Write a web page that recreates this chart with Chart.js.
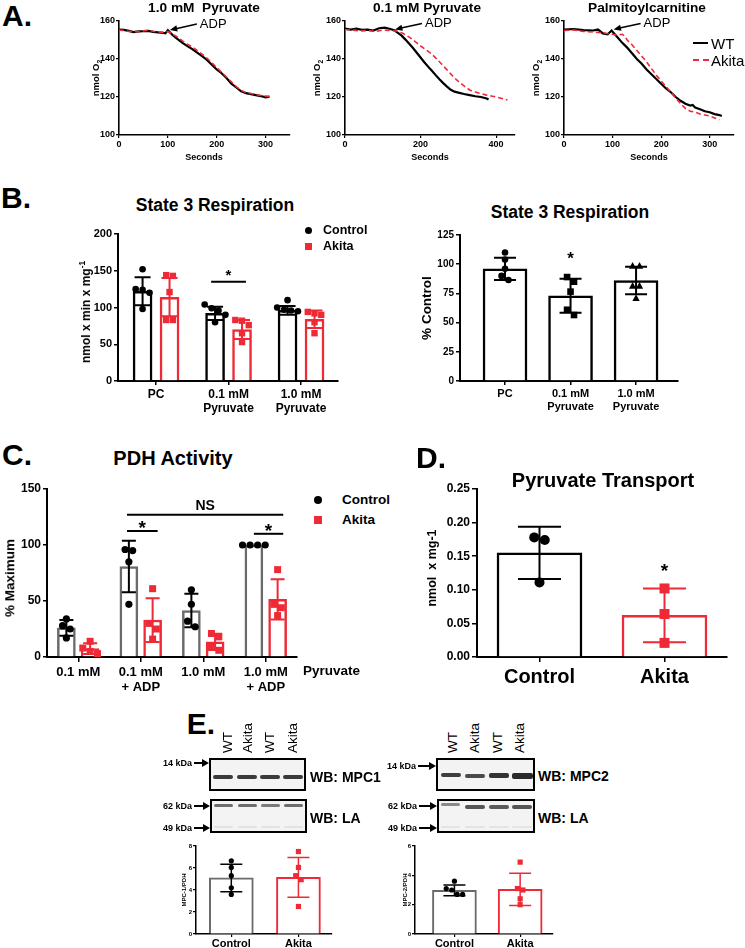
<!DOCTYPE html>
<html><head><meta charset="utf-8">
<script src="https://cdn.jsdelivr.net/npm/chart.js@4.4.1/dist/chart.umd.min.js"></script>
<style>
body{margin:0;width:745px;height:948px;background:#fff;position:relative;overflow:hidden;font-family:"Liberation Sans",Arial,Helvetica,sans-serif;font-weight:bold;color:#000}
canvas{position:absolute}
.t{position:absolute;white-space:nowrap;line-height:1}
.c{transform:translate(-50%,-50%)}
.l{transform:translate(0,-50%)}
.r{transform:translate(-100%,-50%)}
.rot{transform:translate(-50%,-50%) rotate(-90deg)}
.n{font-weight:normal}
.box{position:absolute;border:2px solid #000;background:#f3f3f3;box-sizing:border-box;overflow:hidden}
.band{position:absolute;border-radius:2px;filter:blur(0.7px)}
</style></head><body>
<script>
// ================= DATA =================
// Panel A — O2 traces (seconds / nmol O2)
const a1WtT  = [0,10,20,30,40,50,60,70,80,90,95,100,110,120,130,140,150,160,170,180,190,200,210,220,230,240,250,260,270,280,290,300,308];
const a1WtO2 = [155.5,155.3,154.8,154.2,154.5,154.6,154.8,154.3,154.0,153.8,153.5,155.2,152.5,150.5,148.5,146.8,145.2,143.3,141.5,139.5,137,134.5,132.5,130,127,125,123,122,121.5,121,120.5,119.8,120.2];
const a1AkT  = [0,10,20,30,40,50,60,70,80,90,95,100,110,120,130,140,150,160,170,180,190,200,210,220,230,240,250,260,270,280,290,300,308];
const a1AkO2 = [155.2,155.0,154.5,154.6,154.3,154.8,155.2,154.6,154.2,154.0,154.3,154.5,153.0,151.5,149.5,147.8,146.3,144.5,142.5,140.5,138,135.5,133,130.5,128,125.5,123.5,122.3,121.8,121.3,120.8,120.5,120.3];

const a2WtT  = [0,15,30,45,60,75,90,105,120,132,140,150,160,170,180,190,200,210,220,230,240,250,260,270,280,290,300,315,330,345,360,375,380];
const a2WtO2 = [156,155.5,156,155.3,155.5,155,156.2,156.5,155.8,155,153.8,152.3,150.2,148,145.8,143.3,140.8,138.3,136,133.8,131.5,129.3,127.3,125.5,123.8,122.8,122.3,121.6,121,120.4,120,119.2,118.7];
const a2AkT  = [0,20,40,60,80,100,120,140,154,170,185,199,215,230,243,255,270,287,300,315,331,345,360,375,390,405,420,430];
const a2AkO2 = [155.5,155.2,154.8,155,154.5,155.2,155,154.6,153.4,151.5,149.3,147,144.8,142.5,140,137.5,134.3,130.6,128.2,125.8,123.6,122.6,121.8,121,120.4,119.8,119,118.4];

const a3WtT  = [0,20,40,60,70,80,90,98,110,120,130,140,150,160,170,180,190,200,210,220,230,240,250,260,265,270,280,290,300,310,320,325];
const a3WtO2 = [155.5,155.8,155.2,155,155.5,153.5,153,155,151.5,148.5,146,143,140,137.5,134.5,132,129.5,127,124.5,122.5,120,118,116.5,115.5,115.8,114.5,113.5,112.5,112,111,110.5,110];
const a3AkT  = [0,20,40,60,80,100,110,120,125,130,140,150,160,170,180,190,200,210,220,230,240,250,260,270,280,290,300,310,320];
const a3AkO2 = [155,155.3,154.5,154.2,153.8,153,152.5,153,152,150,147.5,144.5,141.5,138.5,135,131.5,128.5,125.5,122.5,119.5,116.5,114,112.5,112,111,110.5,110,109,108];

const aYTicks = [100,120,140,160];
const a1XTicks = [0,100,200,300];
const a2XTicks = [0,200,400];
const a3XTicks = [0,100,200,300];
const adpTimes = [100, 127, 98];
const adpLevel = [155, 155.3, 155.3];

// Panel B (left) — State 3 respiration, nmol x min x mg-1
const bCats = ['PC', ['0.1 mM','Pyruvate'], ['1.0 mM','Pyruvate']];
const bCtrlMean = [122, 92, 96];
const bCtrlSD   = [19, 9, 6];
const bCtrlPts  = [[152,125,124,120,98],[104,99,96,90,80],[110,100,97,96,95]];
const bAkMean   = [114, 70, 84];
const bAkSD     = [26, 13, 12];
const bAkPts    = [[144,143,121,83,83],[83,82,76,65,53],[94,92,90,80,65]];
const bYTicks   = [0,50,100,150,200];
const bSig      = [{cat: 2, y: 135, text: '*'}];

// Panel B (right) — % Control
const bpMean = [96, 73, 86];
const bpSD   = [9.5, 14.6, 11.8];
const bpPts  = [[110,104,96,90,86.5],[89,85,76.5,61,56.5],[98.4,98.4,81.3,81.3,70.8]];
const bpYTicks = [0,25,50,75,100,125];
const bpStar = [{cat: 2, y: 108}];

// Panel C — PDH activity (% maximum)
const cCats = ['0.1 mM', ['0.1 mM','+ ADP'], '1.0 mM', ['1.0 mM','+ ADP']];
const cCtrlMean = [26, 80.75, 41.5, 100];
const cCtrlSD   = [7, 23, 15, 0];
const cCtrlPts  = [[34,28,25,17],[96,95,85,47],[60,47,32,27],[100,100,100,100]];
const cAkMean   = [7.5, 33, 13.5, 51.5];
const cAkSD     = [4.8, 19.5, 7.3, 18];
const cAkPts    = [[14,8,5,3],[61,30,25,16],[21,18,9,6],[78,47,44,37]];
const cYTicks   = [0,50,100,150];

// Panel D — pyruvate transport (nmol x mg-1)
const dCats = ['Control','Akita'];
const dMean = [0.155, 0.062];
const dSD   = [0.039, 0.040];
const dPts  = [[0.178,0.174,0.111],[0.102,0.064,0.021]];
const dYTicks = [0,0.05,0.10,0.15,0.20,0.25];
const dStar = 0.134;

// Panel E — densitometry
const eCats = ['Control','Akita'];
const e1Mean = [5.1, 5.15];
const e1SD   = [1.25, 1.8];
const e1Pts  = [[6.65,6.05,5.3,4.2,3.6],[7.5,6.05,5.3,4.94,2.5]];
const e1YTicks = [0,2,4,6,8];
const e2Mean = [2.97, 3.05];
const e2SD   = [0.37, 1.1];
const e2Pts  = [[3.6,3.1,3.0,2.7,2.7],[4.9,3.1,3.0,2.4,2.0]];
const e2YTicks = [0,2,4,6];

// ================= STYLE / HELPERS =================
const RED = '#ee2a36', GRAY = '#6a6a6a';
Chart.defaults.font.family = '"Liberation Sans", Arial, Helvetica, sans-serif';
Chart.defaults.font.weight = 'bold';
Chart.defaults.color = '#000';
Chart.defaults.animation = false;
Chart.defaults.plugins.legend.display = false;
Chart.defaults.plugins.tooltip.enabled = false;

function txt(html, x, y, size, cls, extra) {
  const d = document.createElement('div');
  d.className = 't ' + (cls || 'c');
  d.style.left = x + 'px'; d.style.top = y + 'px'; d.style.fontSize = size + 'px';
  if (extra) Object.assign(d.style, extra);
  d.innerHTML = html; document.body.appendChild(d); return d;
}
function place(l, t, r, b, yW, xH, padT, padR) {
  const c = document.createElement('canvas');
  const W = (r - l) + yW + padR, H = (b - t) + padT + xH;
  c.width = W; c.height = H;
  c.style.left = (l - yW) + 'px'; c.style.top = (t - padT) + 'px';
  c.style.width = W + 'px'; c.style.height = H + 'px';
  document.body.appendChild(c);
  return { c, padT, padR };
}
function axis(o) {
  return {
    type: 'linear', min: o.min, max: o.max, offset: false,
    afterBuildTicks: s => { s.ticks = o.ticks.map(v => ({ value: v })); },
    afterFit: s => { if (o.w != null) s.width = o.w; if (o.h != null) s.height = o.h; },
    ticks: { font: { size: o.fs, lineHeight: 1.15 }, padding: o.pad ?? 2, autoSkip: false, maxRotation: 0, minRotation: 0, callback: o.cb || (v => v) },
    grid: { display: true, drawOnChartArea: false, drawTicks: true, tickLength: o.tl ?? 4, color: '#000', lineWidth: o.lw ?? 1.5, offset: false },
    border: { display: true, color: '#000', width: o.bw ?? 2 }
  };
}
function shape(ctx, kind, x, y, r, color) {
  ctx.fillStyle = color; ctx.beginPath();
  if (kind === 'circle') ctx.arc(x, y, r, 0, Math.PI * 2);
  else if (kind === 'square') ctx.rect(x - r, y - r, 2 * r, 2 * r);
  else { ctx.moveTo(x, y - r * 1.2); ctx.lineTo(x + r * 1.1, y + r * 0.8); ctx.lineTo(x - r * 1.1, y + r * 0.8); ctx.closePath(); }
  ctx.fill();
}
// column-scatter: points closer than ~one diameter are spread symmetrically sideways
function spreadX(ys, r) {
  const idx = ys.map((y, i) => i).sort((a, b) => ys[a] - ys[b]);
  const off = new Array(ys.length).fill(0);
  let start = 0;
  for (let k = 1; k <= idx.length; k++) {
    if (k === idx.length || ys[idx[k]] - ys[idx[k - 1]] > r * 1.8) {
      const n = k - start;
      for (let j = 0; j < n; j++) off[idx[start + j]] = (j - (n - 1) / 2) * r * 2.1;
      start = k;
    }
  }
  return off;
}
// draws error bars + individual points on each bar, sig lines and stars, all through the chart scales
function decor(cfg) {
  return {
    id: 'decor',
    afterDatasetsDraw(chart) {
      const ctx = chart.ctx, ys = chart.scales.y, xs = chart.scales.x;
      ctx.save();
      (cfg.series || []).forEach((s, di) => {
        const meta = chart.getDatasetMeta(di);
        meta.data.forEach((bar, i) => {
          const m = s.means[i], sd = s.sds[i];
          const pys = s.pts[i].map(v => ys.getPixelForValue(v));
          const off = spreadX(pys, s.r);
          pys.forEach((py, j) => shape(ctx, typeof s.shape === 'function' ? s.shape(i) : s.shape, bar.x + off[j], py, s.r, s.ptColor));
          if (sd > 0) {
            const yt = ys.getPixelForValue(m + sd), yb = ys.getPixelForValue(m - sd);
            ctx.strokeStyle = s.ebColor; ctx.lineWidth = s.ebW;
            ctx.beginPath();
            ctx.moveTo(bar.x, yt); ctx.lineTo(bar.x, yb);
            ctx.moveTo(bar.x - s.cap / 2, yt); ctx.lineTo(bar.x + s.cap / 2, yt);
            ctx.moveTo(bar.x - s.cap / 2, yb); ctx.lineTo(bar.x + s.cap / 2, yb);
            ctx.stroke();
          }
        });
      });
      (cfg.lines || []).forEach(L => {
        const y = ys.getPixelForValue(L.y);
        ctx.strokeStyle = '#000'; ctx.lineWidth = 2;
        ctx.beginPath(); ctx.moveTo(xs.getPixelForValue(L.x1), y); ctx.lineTo(xs.getPixelForValue(L.x2), y); ctx.stroke();
        if (L.text) {
          ctx.fillStyle = '#000'; ctx.textAlign = 'center'; ctx.textBaseline = 'alphabetic';
          ctx.font = 'bold ' + L.fs + 'px "Liberation Sans", Arial';
          ctx.fillText(L.text, xs.getPixelForValue((L.x1 + L.x2) / 2), y - L.gap);
        }
      });
      (cfg.stars || []).forEach(S => {
        ctx.fillStyle = '#000'; ctx.textAlign = 'center'; ctx.textBaseline = 'alphabetic';
        ctx.font = 'bold ' + S.fs + 'px "Liberation Sans", Arial';
        ctx.fillText('*', xs.getPixelForValue(S.x), ys.getPixelForValue(S.y) + S.fs * 0.55);
      });
      ctx.restore();
    }
  };
}
function barDs(means, off, color, thick, bw) {
  return { data: means.map((m, i) => ({ x: i + 1 + off, y: m })), backgroundColor: '#fff', borderColor: color,
           borderWidth: bw, barThickness: thick, grouped: false, borderSkipped: 'bottom' };
}
function oneBar(pos, mean, color, thick, bw) {
  return { data: [{ x: pos, y: mean }], backgroundColor: '#fff', borderColor: color,
           borderWidth: bw, barThickness: thick, grouped: false, borderSkipped: 'bottom' };
}
function barChart(p, o) {
  return new Chart(p.c, {
    type: 'bar',
    data: { datasets: o.datasets },
    options: {
      responsive: false, maintainAspectRatio: false, devicePixelRatio: 1,
      layout: { padding: { top: p.padT, right: p.padR, left: 0, bottom: 0 } },
      scales: { x: o.x, y: o.y }
    },
    plugins: [decor(o.decor)]
  });
}

// ---------- Panel A: line charts ----------
function adpPlugin(t, v) {
  return {
    id: 'adp',
    afterDatasetsDraw(chart) {
      const ctx = chart.ctx, px = chart.scales.x.getPixelForValue(t), py = chart.scales.y.getPixelForValue(v);
      const sx = px + 29, sy = py - 6.5, ex = px + 2, ey = py - 0.5;
      ctx.save(); ctx.strokeStyle = '#000'; ctx.fillStyle = '#000'; ctx.lineWidth = 1.5;
      ctx.beginPath(); ctx.moveTo(sx, sy); ctx.lineTo(ex + 5, ey - 1.1); ctx.stroke();
      const ang = Math.atan2(ey - sy, ex - sx);
      ctx.beginPath(); ctx.moveTo(ex, ey);
      ctx.lineTo(ex - 8 * Math.cos(ang - 0.4), ey - 8 * Math.sin(ang - 0.4));
      ctx.lineTo(ex - 8 * Math.cos(ang + 0.4), ey - 8 * Math.sin(ang + 0.4));
      ctx.closePath(); ctx.fill();
      ctx.font = '13px "Liberation Sans", Arial'; ctx.textBaseline = 'middle'; ctx.textAlign = 'left';
      ctx.fillText('ADP', px + 32, py - 6.5);
      ctx.restore();
    }
  };
}
function lineChart(p, o) {
  const pts = (T, V) => T.map((t, i) => ({ x: t, y: V[i] }));
  return new Chart(p.c, {
    type: 'line',
    data: { datasets: [
      { data: pts(o.akT, o.akV), borderColor: RED, borderWidth: 1.6, borderDash: [5, 3], pointRadius: 0, tension: 0, fill: false },
      { data: pts(o.wtT, o.wtV), borderColor: '#000', borderWidth: 2.2, pointRadius: 0, tension: 0, fill: false }
    ] },
    options: {
      responsive: false, maintainAspectRatio: false, devicePixelRatio: 1,
      layout: { padding: { top: p.padT, right: p.padR, left: 0, bottom: 0 } },
      scales: {
        x: axis({ min: 0, max: o.xmax, ticks: o.xticks, fs: 9, h: 18, tl: 3, lw: 1.2, bw: 1.6, pad: 1 }),
        y: axis({ min: 100, max: 160, ticks: aYTicks, fs: 9, w: 26, tl: 3, lw: 1.2, bw: 1.6, pad: 1 })
      }
    },
    plugins: [adpPlugin(o.adpT, o.adpV)]
  });
}
lineChart(place(119, 21, 290, 135, 26, 18, 8, 8), { wtT: a1WtT, wtV: a1WtO2, akT: a1AkT, akV: a1AkO2, xmax: 350, xticks: a1XTicks, adpT: adpTimes[0], adpV: adpLevel[0] });
lineChart(place(345, 21, 515, 135, 26, 18, 8, 8), { wtT: a2WtT, wtV: a2WtO2, akT: a2AkT, akV: a2AkO2, xmax: 450, xticks: a2XTicks, adpT: adpTimes[1], adpV: adpLevel[1] });
lineChart(place(564, 21, 734, 135, 26, 18, 8, 8), { wtT: a3WtT, wtV: a3WtO2, akT: a3AkT, akV: a3AkO2, xmax: 350, xticks: a3XTicks, adpT: adpTimes[2], adpV: adpLevel[2] });

// ---------- Panel B left ----------
const bOff = 0.186;
barChart(place(118, 234, 338, 381, 40, 34, 10, 12), {
  datasets: [barDs(bCtrlMean, -bOff, '#000', 19, 2.5), barDs(bAkMean, bOff, RED, 19, 2.5)],
  x: axis({ min: 0.475, max: 3.51, ticks: [1, 2, 3], fs: 12, h: 34, tl: 4, pad: 3, cb: v => bCats[v - 1] }),
  y: axis({ min: 0, max: 200, ticks: bYTicks, fs: 11, w: 40, tl: 4, pad: 2 }),
  decor: {
    series: [
      { means: bCtrlMean, sds: bCtrlSD, pts: bCtrlPts, shape: 'circle', r: 3.3, ptColor: '#000', ebColor: '#000', ebW: 2, cap: 16 },
      { means: bAkMean, sds: bAkSD, pts: bAkPts, shape: 'square', r: 3.2, ptColor: RED, ebColor: RED, ebW: 2, cap: 16 }
    ],
    lines: bSig.map(s => ({ x1: s.cat - 0.24, x2: s.cat + 0.24, y: s.y, text: s.text, fs: 15, gap: 2 }))
  }
});

// ---------- Panel B right ----------
const bpShapes = ['circle', 'square', 'triangle'];
barChart(place(460, 235, 678, 381, 40, 34, 10, 20), {
  datasets: [barDs(bpMean, 0, '#000', 44, 2.5)],
  x: axis({ min: 0.313, max: 3.64, ticks: [1, 2, 3], fs: 11, h: 34, tl: 4, pad: 3, cb: v => bCats[v - 1] }),
  y: axis({ min: 0, max: 125, ticks: bpYTicks, fs: 10, w: 40, tl: 4, pad: 2 }),
  decor: {
    series: [{ means: bpMean, sds: bpSD, pts: bpPts, shape: i => bpShapes[i], r: 3.3, ptColor: '#000', ebColor: '#000', ebW: 2, cap: 22 }],
    stars: bpStar.map(s => ({ x: s.cat, y: s.y, fs: 17 }))
  }
});

// ---------- Panel C ----------
const cOff = 0.19;
barChart(place(47, 489, 297, 657, 40, 36, 10, 12), {
  datasets: [barDs(cCtrlMean, -cOff, GRAY, 18, 2.5), barDs(cAkMean, cOff, RED, 18, 2.5)],
  x: axis({ min: 0.5, max: 4.5, ticks: [1, 2, 3, 4], fs: 13, h: 36, tl: 5, pad: 3, cb: v => cCats[v - 1] }),
  y: axis({ min: 0, max: 150, ticks: cYTicks, fs: 12, w: 40, tl: 4, pad: 2 }),
  decor: {
    series: [
      { means: cCtrlMean, sds: cCtrlSD, pts: cCtrlPts, shape: 'circle', r: 3.6, ptColor: '#000', ebColor: '#000', ebW: 2, cap: 14 },
      { means: cAkMean, sds: cAkSD, pts: cAkPts, shape: 'square', r: 3.5, ptColor: RED, ebColor: RED, ebW: 2, cap: 14 }
    ],
    lines: [
      { x1: 2 - 0.22, x2: 4 + 0.28, y: 127, text: 'NS', fs: 14, gap: 5 },
      { x1: 2 - 0.22, x2: 2 + 0.27, y: 112.5, text: '*', fs: 19, gap: -3 },
      { x1: 4 - 0.19, x2: 4 + 0.28, y: 110, text: '*', fs: 19, gap: -3 }
    ]
  }
});

// ---------- Panel D ----------
barChart(place(477, 489, 727, 657, 50, 40, 10, 12), {
  datasets: [oneBar(1, dMean[0], '#000', 85, 2.5), oneBar(2, dMean[1], RED, 85, 2.5)],
  x: axis({ min: 0.5, max: 2.5, ticks: [1, 2], fs: 20, h: 40, tl: 5, pad: 4, cb: v => dCats[v - 1] }),
  y: axis({ min: 0, max: 0.25, ticks: dYTicks, fs: 12, w: 50, tl: 5, pad: 2, cb: v => v.toFixed(2) }),
  decor: {
    series: [
      { means: [dMean[0]], sds: [dSD[0]], pts: [dPts[0]], shape: 'circle', r: 5, ptColor: '#000', ebColor: '#000', ebW: 2, cap: 43 },
      { means: [dMean[1]], sds: [dSD[1]], pts: [dPts[1]], shape: 'square', r: 5, ptColor: RED, ebColor: RED, ebW: 2, cap: 43 }
    ],
    stars: [{ x: 2, y: dStar, fs: 19 }]
  }
});

// ---------- Panel E small charts ----------
function eChart(l, r, xmin, yt, mean, sd, pts) {
  return barChart(place(l, 846, r, 934, 20, 16, 6, 14), {
    datasets: [oneBar(1, mean[0], GRAY, 44, 2), oneBar(2, mean[1], RED, 44, 2)],
    x: axis({ min: xmin, max: 2.5, ticks: [1, 2], fs: 11, h: 16, tl: 3, pad: 1, lw: 1.2, bw: 1.5, cb: v => eCats[v - 1] }),
    y: axis({ min: 0, max: yt[yt.length - 1], ticks: yt, fs: 6, w: 20, tl: 3, pad: 1, lw: 1.2, bw: 1.5 }),
    decor: {
      series: [
        { means: [mean[0]], sds: [sd[0]], pts: [pts[0]], shape: 'circle', r: 2.6, ptColor: '#000', ebColor: '#000', ebW: 1.5, cap: 22 },
        { means: [mean[1]], sds: [sd[1]], pts: [pts[1]], shape: 'square', r: 2.6, ptColor: RED, ebColor: RED, ebW: 1.5, cap: 22 }
      ]
    }
  });
}
eChart(196, 332, 0.474, e1YTicks, e1Mean, e1SD, e1Pts);
eChart(415, 553, 0.4, e2YTicks, e2Mean, e2SD, e2Pts);

// ================= TEXT =================
txt('A.', 17, 16, 30);
txt('1.0 mM&nbsp; Pyruvate', 204, 8, 13.7);
txt('0.1 mM Pyruvate', 427, 8, 13.7);
txt('Palmitoylcarnitine', 647, 8, 13.7);
txt('nmol O<sub style="font-size:0.7em">2</sub>', 97, 78, 9.5, 'rot');
txt('nmol O<sub style="font-size:0.7em">2</sub>', 318, 78, 9.5, 'rot');
txt('nmol O<sub style="font-size:0.7em">2</sub>', 537, 78, 9.5, 'rot');
txt('Seconds', 204, 157, 9);
txt('Seconds', 430, 157, 9);
txt('Seconds', 649, 157, 9);
// legend A
(function () {
  const a = document.createElement('div'); a.style.cssText = 'position:absolute;left:693px;top:42px;width:15px;height:0;border-top:2.4px solid #000'; document.body.appendChild(a);
  const b = document.createElement('div'); b.style.cssText = 'position:absolute;left:693px;top:59px;width:16px;height:0;border-top:2px dashed ' + RED; document.body.appendChild(b);
})();
txt('WT', 711, 43, 15, 'l n');
txt('Akita', 711, 60, 15, 'l n');

txt('B.', 16, 198, 30);
txt('State 3 Respiration', 215, 206, 17.5);
txt('State 3 Respiration', 570, 213, 17.5);
txt('nmol x min x mg<sup style="font-size:0.7em">-1</sup>', 85, 312, 12, 'rot');
txt('% Control', 427, 308, 13.5, 'rot');
(function () {
  const m1 = document.createElement('div'); m1.style.cssText = 'position:absolute;left:305px;top:226.5px;width:7px;height:7px;border-radius:50%;background:#000'; document.body.appendChild(m1);
  const m2 = document.createElement('div'); m2.style.cssText = 'position:absolute;left:305px;top:242.5px;width:7px;height:7px;background:' + RED; document.body.appendChild(m2);
  const m3 = document.createElement('div'); m3.style.cssText = 'position:absolute;left:314px;top:496px;width:8px;height:8px;border-radius:50%;background:#000'; document.body.appendChild(m3);
  const m4 = document.createElement('div'); m4.style.cssText = 'position:absolute;left:314px;top:516px;width:8px;height:8px;background:' + RED; document.body.appendChild(m4);
})();
txt('Control', 323, 230, 12.5, 'l');
txt('Akita', 323, 246, 12.5, 'l');

txt('C.', 17, 455, 30);
txt('PDH Activity', 173, 458, 20);
txt('Control', 342, 500, 13.5, 'l');
txt('Akita', 342, 520, 13.5, 'l');
txt('% Maximum', 10, 578, 13.5, 'rot');
txt('Pyruvate', 303, 671, 13.5, 'l');

txt('D.', 431, 458, 30);
txt('Pyruvate Transport', 603, 480, 20);
txt('nmol&nbsp; x mg-1', 432, 568, 12.5, 'rot');

txt('E.', 201, 724, 30);

// ================= BLOTS (panel E images) =================
function blot(x, y, w, h, bands) {
  const b = document.createElement('div'); b.className = 'box';
  b.style.left = x + 'px'; b.style.top = y + 'px'; b.style.width = w + 'px'; b.style.height = h + 'px';
  bands.forEach(d => {
    const e = document.createElement('div'); e.className = 'band';
    e.style.left = (d[0] - x - 2) + 'px'; e.style.top = (d[1] - y - 2) + 'px';
    e.style.width = d[2] + 'px'; e.style.height = d[3] + 'px'; e.style.background = d[4];
    b.appendChild(e);
  });
  document.body.appendChild(b);
}
blot(209, 758, 97, 33, [[213,775,20,4,'#3a3a3a'],[237,775,20,4,'#3a3a3a'],[260,775,20,4,'#3a3a3a'],[283,775,20,4,'#3a3a3a']]);
blot(210, 799, 97, 34, [[214,804,19,3,'#6d6d6d'],[238,804,19,3,'#6d6d6d'],[261,804,19,3,'#7a7a7a'],[284,804,19,3,'#6d6d6d'],
                        [214,826,19,2,'#e2e2e2'],[238,826,19,2,'#e2e2e2'],[261,826,19,2,'#e2e2e2'],[284,826,19,2,'#e2e2e2']]);
blot(436, 758, 99, 33, [[441,773,20,4,'#3e3e3e'],[465,774,20,4,'#4a4a4a'],[489,773,20,5,'#333'],[512,773,21,6,'#2a2a2a']]);
blot(437, 799, 98, 34, [[441,803,19,3,'#8a8a8a'],[465,805,20,4,'#555'],[489,805,20,4,'#5a5a5a'],[512,805,20,4,'#555'],
                        [441,826,19,2,'#e4e4e4'],[465,826,20,2,'#e4e4e4'],[489,826,20,2,'#e4e4e4'],[512,826,20,2,'#e4e4e4']]);
function lane(label, cx) {
  const d = document.createElement('div'); d.className = 't n';
  d.style.cssText += ';left:' + (cx - 7) + 'px;top:753px;font-size:13.5px;transform:rotate(-90deg);transform-origin:0 0;line-height:14px';
  d.textContent = label; document.body.appendChild(d);
}
['WT','Akita','WT','Akita'].forEach((s, i) => lane(s, [228,248,270,293][i]));
['WT','Akita','WT','Akita'].forEach((s, i) => lane(s, [453,475,498,520][i]));
function kda(label, xr, y, xa) {
  txt(label, xr, y, 9, 'r');
  const ln = document.createElement('div'); ln.style.cssText = 'position:absolute;left:' + (xr + 2) + 'px;top:' + (y - 0.75) + 'px;width:' + (xa - xr - 8) + 'px;height:1.5px;background:#000';
  document.body.appendChild(ln);
  const hd = document.createElement('div'); hd.style.cssText = 'position:absolute;left:' + (xa - 7) + 'px;top:' + (y - 4) + 'px;width:0;height:0;border-top:4px solid transparent;border-bottom:4px solid transparent;border-left:7px solid #000';
  document.body.appendChild(hd);
}
kda('14 kDa', 192, 763, 209);
kda('62 kDa', 192, 806, 210);
kda('49 kDa', 192, 828, 210);
kda('14 kDa', 416, 766, 436);
kda('62 kDa', 417, 806, 437);
kda('49 kDa', 417, 828, 437);
txt('WB: MPC1', 310, 777, 14, 'l');
txt('WB: LA', 310, 818, 14, 'l');
txt('WB: MPC2', 538, 776, 14, 'l');
txt('WB: LA', 538, 818, 14, 'l');
txt('MPC-1/PDH', 184, 890, 6, 'rot');
txt('MPC-2/PDH', 405, 890, 6, 'rot');
</script>
</body></html>
